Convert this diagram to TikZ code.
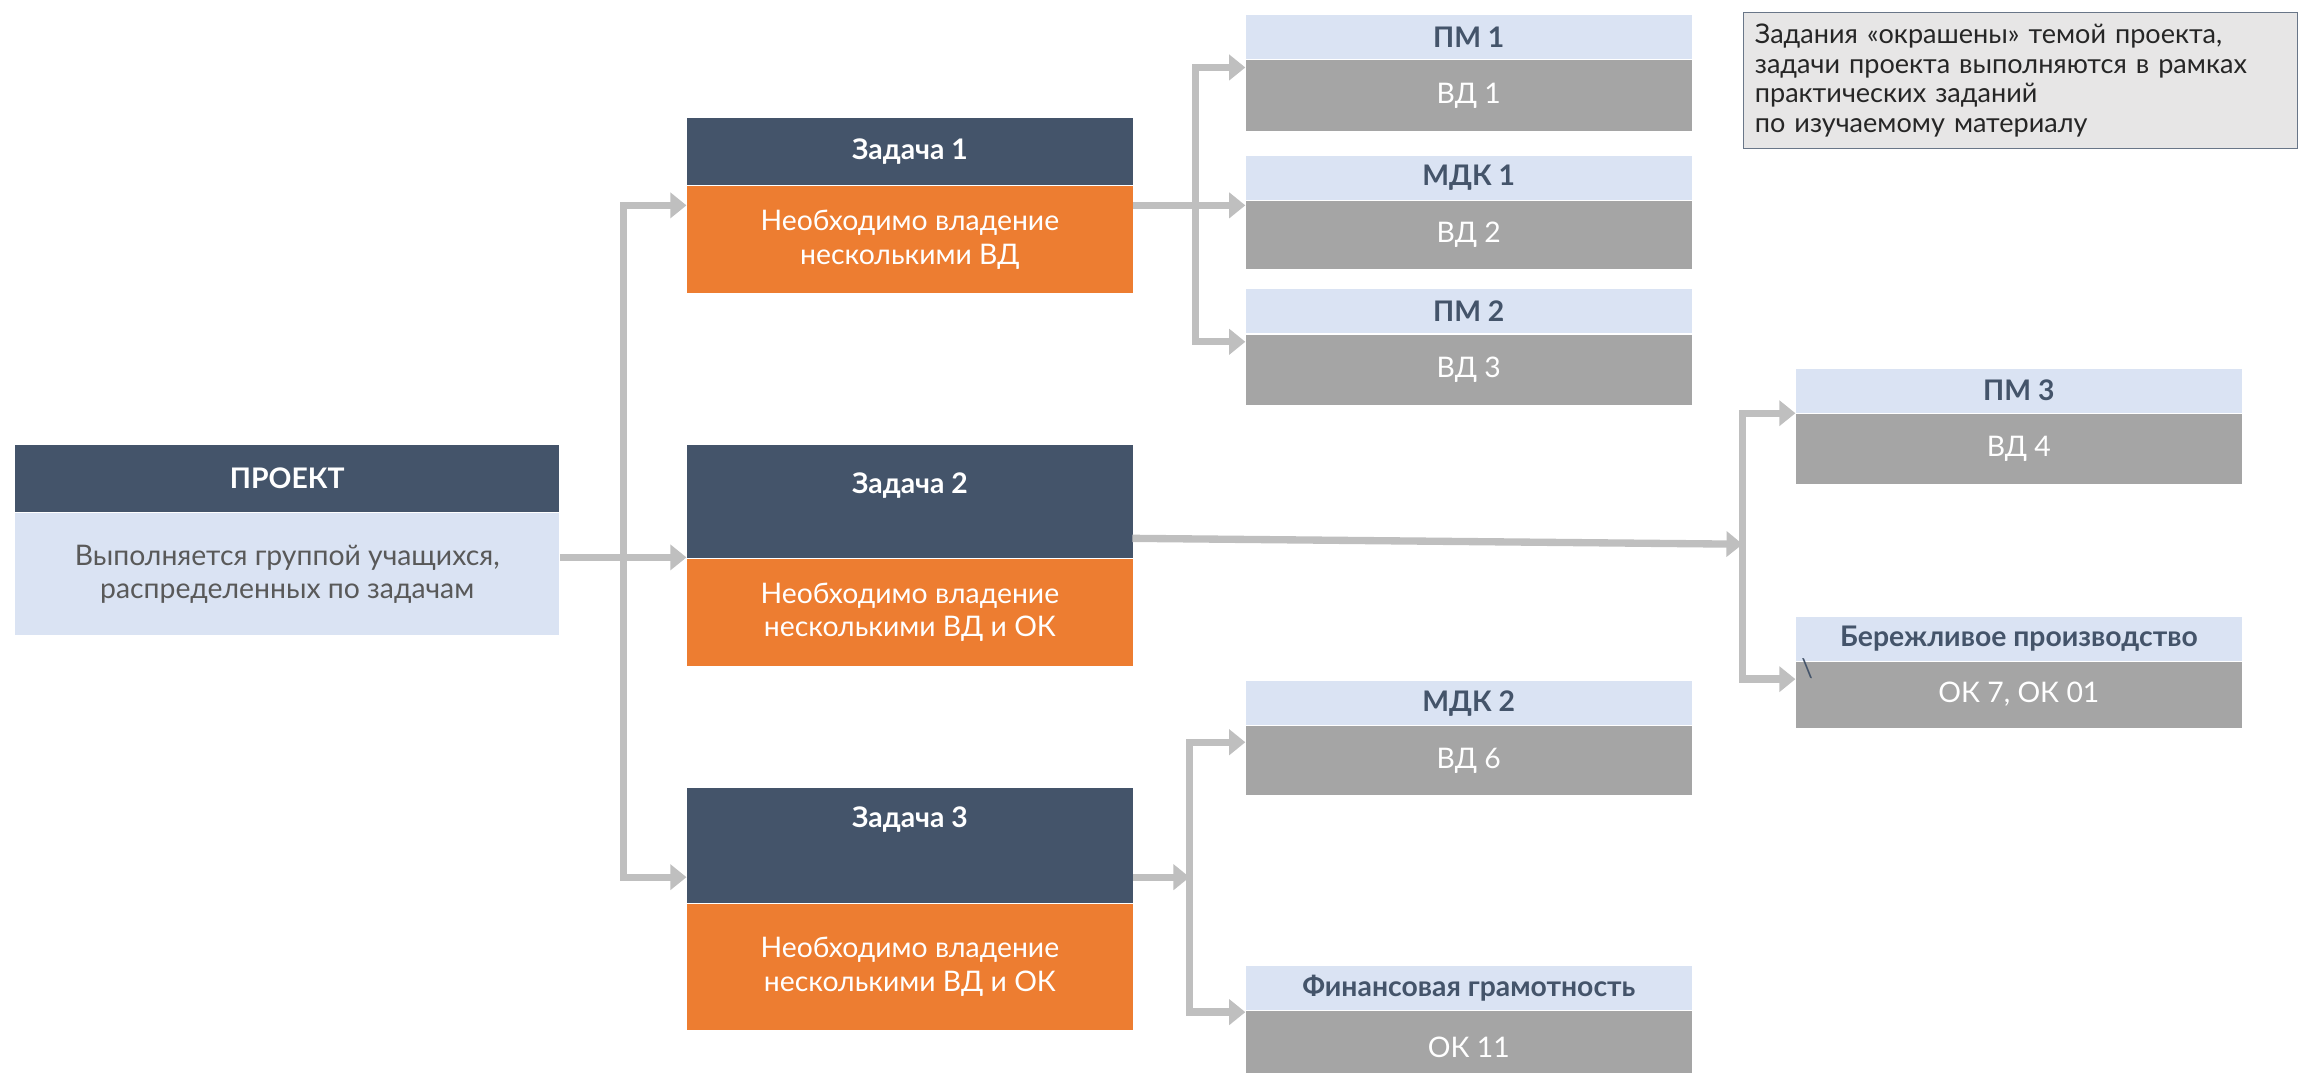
\documentclass[tikz,border=0pt]{standalone}
\usepackage{fontspec}
\setmainfont{Lato}
\usetikzlibrary{positioning,arrows.meta}
\definecolor{hdrblue}{HTML}{44546A}
\definecolor{orng}{HTML}{ED7D31}
\definecolor{pale}{HTML}{DAE3F3}
\definecolor{boxgray}{HTML}{A5A5A5}
\definecolor{linegray}{HTML}{BFBFBF}
\definecolor{notegray}{HTML}{E7E6E6}
\definecolor{txtgray}{HTML}{595959}
\tikzset{
  hdr/.style={fill=hdrblue, text=white, font=\bfseries\fontsize{11}{13}\selectfont, minimum width=6.08cm, inner sep=0pt, anchor=north west},
  hdrtext/.style={text=white, font=\bfseries\fontsize{11}{13}\selectfont, inner sep=0pt},
  task/.style={fill=orng, text=white, align=center, font=\fontsize{11}{13}\selectfont, minimum width=6.08cm, inner sep=0pt},
  modcap/.style={fill=pale, text=hdrblue, font=\bfseries\fontsize{11}{13}\selectfont, minimum width=6.08cm, minimum height=0.6cm, inner sep=0pt, anchor=north west},
  cell/.style={fill=boxgray, text=white, font=\fontsize{11}{13}\selectfont, minimum width=6.08cm, inner sep=0pt},
  link/.style={draw=linegray, line width=0.1cm},
  arr/.style={link, -{Triangle[length=0.22cm,width=0.34cm]}},
}
\begin{document}
\begin{tikzpicture}[x=0.02cm,y=-0.02cm]
\useasboundingbox (0,0) rectangle (1568,731);
% project
\node[hdr, minimum width=7.42cm, minimum height=0.92cm] (ph) at (10,303) {ПРОЕКТ};
\node[fill=pale, text=txtgray, align=center, font=\fontsize{11}{13}\selectfont, minimum width=7.42cm, minimum height=1.66cm, inner sep=0pt, below=0pt of ph] (pb) {Выполняется группой учащихся,\\распределенных по задачам};
% tasks
\node[hdr, minimum height=0.92cm] (t1h) at (468,80) {Задача 1};
\node[task, minimum height=1.46cm, below=0pt of t1h] (t1b) {Необходимо владение\\несколькими ВД};
\node[hdr, minimum height=1.54cm] (t2h) at (468,303) {};
\node[hdrtext] (t2t) at ([yshift=-0.56cm]t2h.north) {Задача 2};
\node[task, minimum height=1.46cm, below=0pt of t2h] (t2b) {Необходимо владение\\несколькими ВД и ОК};
\node[hdr, minimum height=1.56cm] (t3h) at (468,537) {};
\node[hdrtext] (t3t) at ([yshift=-0.44cm]t3h.north) {Задача 3};
\node[task, minimum height=1.72cm, below=0pt of t3h] (t3b) {Необходимо владение\\несколькими ВД и ОК};
% modules
\node[modcap] (p1h) at (849,10) {ПМ 1};
\node[cell, minimum height=0.96cm, below=0pt of p1h] (p1b) {ВД 1};
\node[modcap] (m1h) at (849,106) {МДК 1};
\node[cell, minimum height=0.92cm, below=0pt of m1h] (m1b) {ВД 2};
\node[modcap] (p2h) at (849,197) {ПМ 2};
\node[cell, minimum height=0.96cm, below=0pt of p2h] (p2b) {ВД 3};
\node[modcap] (p3h) at (1224,251) {ПМ 3};
\node[cell, minimum height=0.96cm, below=0pt of p3h] (p3b) {ВД 4};
\node[modcap] (bh) at (1224,420) {Бережливое производство};
\node[cell, minimum height=0.9cm, below=0pt of bh] (bb) {ОК 7, ОК 01};
\node[text=hdrblue, font=\fontsize{10}{10}\selectfont, inner sep=0pt] (bs) at (1232,456) {\textbackslash};
\node[modcap] (m2h) at (849,464) {МДК 2};
\node[cell, minimum height=0.94cm, below=0pt of m2h] (m2b) {ВД 6};
\node[modcap] (fh) at (849,658) {Финансовая грамотность};
\node[cell, minimum height=1.2cm, below=0pt of fh, text depth=0.2cm] (fb) {ОК 11};
% note
\node[draw=hdrblue!80, fill=notegray, anchor=north west, minimum width=7.56cm, minimum height=1.86cm, text width=7.24cm, inner xsep=0.16cm, align=left, font=\fontsize{10.5}{11.5}\selectfont, text=black!85] (note) at (1188,8) {Задания «окрашены» темой проекта,\\задачи проекта выполняются в рамках\\практических заданий\\по изучаемому материалу};
% connectors
\coordinate (b1) at (425,140);
\coordinate (b2) at (425,380);
\coordinate (b3) at (425,598);
\draw[arr] (pb.east |- b2) -- (b2 -| t2h.west);
\draw[arr] (b2) |- (b1 -| t1b.west);
\draw[arr] (b2) |- (b3 -| t3h.west);
\coordinate (c1) at (815,46);
\coordinate (c2) at (815,140);
\coordinate (c3) at (815,233);
\draw[arr] (t1b.east |- c2) -- (c2 -| m1b.west);
\draw[arr] (c2) |- (c1 -| p1b.west);
\draw[arr] (c2) |- (c3 -| p2b.west);
\coordinate (d0) at (772,367);
\coordinate (d1) at (1188,371);
\coordinate (d2) at (1224,463);
\draw[arr] (d0) -- (d1);
\draw[arr] (d1) |- (p3b.north west);
\draw[arr] (d1) |- (d2);
\coordinate (e0) at (811,598);
\coordinate (e1) at (849,506);
\coordinate (e2) at (849,690);
\draw[arr] (t3h.east |- e0) -- (e0);
\draw[arr] (e0) |- (e1);
\draw[arr] (e0) |- (e2);
\end{tikzpicture}
\end{document}
